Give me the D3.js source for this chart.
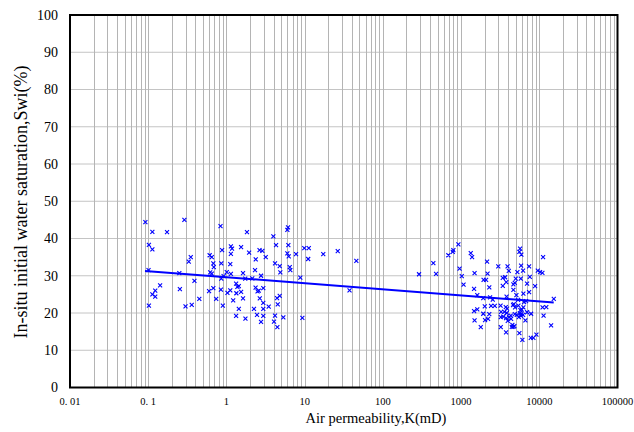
<!DOCTYPE html>
<html lang="en">
  <head>
    <meta charset="utf-8">
    <title>Swi vs air permeability</title>
    <script src="https://cdnjs.cloudflare.com/ajax/libs/d3/7.8.5/d3.min.js"></script>
    <style type="text/css">
      body { margin: 0; background: #fff; }
      svg { display: block; }
      .tick-y { font-family: 'Liberation Serif', 'Times New Roman', serif; font-size: 14px; }
      .tick-x { font-family: 'Liberation Serif', 'Times New Roman', serif; font-size: 10.5px; }
      .title { font-family: 'Liberation Serif', 'Times New Roman', serif; font-size: 14.5px; }
      .title-y { font-family: 'Liberation Serif', 'Times New Roman', serif; font-size: 18px; }
    </style>
  </head>
  <body>
    <svg id="chart"></svg>
    <script type="text/javascript">
// permeability K (mD) and water saturation Swi (%) of each sample
var permK = [
  0.092, 0.29, 0.113, 0.174, 0.102, 0.113, 0.33, 0.101, 0.25, 0.142,
  0.123, 0.113, 0.123, 0.254, 0.102, 0.30, 0.36, 0.35, 0.39, 0.45,
  0.84, 1.83, 1.14, 1.18, 1.54, 0.88, 1.95, 2.65, 1.14, 0.61,
  0.65, 0.68, 0.69, 0.86, 1.12, 2.37, 0.62, 0.65, 1.01, 1.14,
  1.63, 2.32, 0.92, 0.86, 1.74, 2.14, 1.33, 1.38, 1.44, 0.60,
  0.68, 0.85, 1.12, 1.03, 1.34, 1.54, 2.36, 2.5, 2.96, 2.59,
  0.74, 1.22, 1.63, 2.67, 4.8, 4.44, 2.96, 3.47, 4.53, 0.90,
  1.44, 2.25, 2.96, 1.33, 1.75, 2.46, 2.96, 4.18, 5.34, 9.35,
  2.77, 4.06, 4.48, 3.98, 6.13, 6.01, 2.88, 4.31, 6.19, 9.9,
  11.3, 26.5, 3.18, 6.01, 6.26, 7.76, 11.1, 17.3, 45.8, 4.18,
  4.8, 6.45, 4.89, 6.56, 2.77, 8.81, 37.5,
  290, 442, 479, 688, 783, 797, 924, 957, 1330, 1383,
  1021, 1076, 1488, 1466, 2150, 2182, 1940, 2088, 2294, 1611,
  1922, 2349, 2543, 1466, 1611, 1922, 2294, 2215, 2027, 1488,
  1786, 2418, 2698, 2010, 2990, 3930, 4074, 3415, 3652, 3785,
  3415, 4665, 3818, 3200, 3728, 3873, 3247, 3577, 3840, 3445,
  4110, 4360, 3955, 3219, 3762, 4450, 4805, 5248, 5682, 5566,
  5903, 5852, 6205, 5006, 4862, 5799, 5357, 6260, 7408, 7560,
  6982, 7408, 8838, 9568, 10240, 10960, 11190, 4624, 4904, 5404,
  5732, 6260, 6779, 6641, 7855, 5157, 5470, 5903, 4862, 4665,
  5566, 6079, 7786, 8404, 9184, 11020, 12290, 11350, 14160, 15330,
  3219, 3762, 4321, 4529, 5096, 5631, 6205, 4720, 4665, 6391,
  5972, 6982, 5852
];
var swi = [
  44.4, 45.0, 41.8, 41.7, 38.3, 37.1, 33.8, 31.5, 30.7, 27.4,
  26.0, 25.0, 24.4, 26.4, 22.0, 21.8, 22.2, 35.0, 28.6, 23.8,
  43.3, 41.7, 37.9, 37.3, 37.7, 36.9, 36.2, 36.9, 35.9, 35.5,
  35.0, 33.3, 32.3, 33.3, 33.1, 34.4, 30.9, 30.6, 31.0, 30.5,
  30.7, 31.5, 29.9, 29.2, 29.2, 29.3, 27.9, 27.0, 27.2, 25.9,
  26.7, 26.3, 26.1, 25.4, 25.3, 25.7, 26.8, 25.8, 26.7, 26.0,
  23.8, 23.4, 23.9, 23.9, 24.6, 24.0, 22.7, 21.7, 22.3, 22.0,
  21.1, 21.1, 21.1, 19.2, 18.5, 19.5, 19.2, 19.3, 18.8, 18.7,
  17.6, 17.7, 16.2, 40.6, 43.0, 42.3, 36.7, 38.2, 38.2, 37.4,
  37.4, 36.6, 35.0, 36.0, 35.2, 35.8, 34.5, 35.8, 34.0, 33.3,
  32.6, 32.3, 30.9, 31.5, 30.0, 29.5, 26.1,
  30.4, 33.4, 30.5, 35.5, 36.4, 36.9, 38.4, 31.9, 36.1, 35.0,
  29.9, 27.6, 30.7, 26.5, 33.8, 30.6, 28.9, 28.9, 26.9, 24.8,
  24.0, 24.2, 23.6, 20.5, 21.0, 19.8, 19.7, 18.4, 18.1, 18.0,
  16.2, 21.9, 21.9, 21.8, 32.5, 32.5, 31.3, 29.4, 29.6, 28.3,
  27.3, 26.2, 24.4, 22.0, 21.6, 21.2, 20.3, 20.3, 20.0, 19.0,
  18.9, 18.4, 17.9, 16.2, 14.8, 16.3, 16.5, 31.0, 37.3, 36.4,
  35.7, 32.7, 31.4, 29.2, 28.1, 29.2, 23.5, 25.2, 32.5, 29.7,
  27.9, 25.6, 27.2, 31.4, 31.0, 30.8, 35.0, 22.1, 21.5, 22.0,
  20.8, 21.5, 23.2, 18.0, 19.8, 19.5, 18.9, 19.7, 19.7, 16.3,
  14.6, 12.8, 13.3, 13.3, 14.2, 21.5, 21.6, 19.3, 16.7, 23.8,
  18.9, 18.6, 19.3, 16.8, 24.8, 19.9, 19.5, 22.4, 27.7, 22.9,
  20.9, 20.2, 19.2
];

// fitted trend line end points
var trendK = [0.091, 15300];
var trendSwi = [31.3, 22.8];

var xTicks = [0.01, 0.1, 1, 10, 100, 1000, 10000, 100000];
var xTickLabels = ["0. 01", "0. 1", "1", "10", "100", "1000", "10000", "100000"];
var yTicks = [0, 10, 20, 30, 40, 50, 60, 70, 80, 90, 100];

var w = 634;
var h = 432;
var plotLeft = 70, plotRight = 617.5, plotTop = 15, plotBottom = 387.5;

var svg = d3.select("#chart")
  .attr("width", w)
  .attr("height", h);

var xScale = d3.scaleLog().domain([0.01, 100000]).range([plotLeft, plotRight]);
var yScale = d3.scaleLinear().domain([0, 100]).range([plotBottom, plotTop]);

//grid lines
svg.append("g")
  .selectAll("line")
  .data(yTicks.slice(1, -1))
  .enter().append("line")
  .attr("x1", plotLeft).attr("x2", plotRight)
  .attr("y1", function(d) { return yScale(d); })
  .attr("y2", function(d) { return yScale(d); })
  .attr("stroke", "#c4c4c4")
  .attr("stroke-width", 1);

svg.append("g")
  .selectAll("line")
  .data(xScale.ticks().filter(function(d) { return d > 0.0100001 && d < 99999; }))
  .enter().append("line")
  .attr("x1", function(d) { return Math.round(xScale(d)) + 0.5; })
  .attr("x2", function(d) { return Math.round(xScale(d)) + 0.5; })
  .attr("y1", plotTop).attr("y2", plotBottom)
  .attr("stroke", "#b4b4b4")
  .attr("stroke-width", 1);

//frame
svg.append("rect")
  .attr("x", plotLeft).attr("y", plotTop)
  .attr("width", plotRight - plotLeft).attr("height", plotBottom - plotTop)
  .attr("fill", "none")
  .attr("stroke", "#000")
  .attr("stroke-width", 2);

//y tick labels
svg.append("g")
  .selectAll("text")
  .data(yTicks)
  .enter().append("text")
  .attr("class", "tick-y")
  .attr("x", 58)
  .attr("y", function(d) { return yScale(d); })
  .attr("dy", "0.35em")
  .attr("text-anchor", "end")
  .text(function(d) { return d; });

//x tick labels
svg.append("g")
  .selectAll("text")
  .data(xTicks)
  .enter().append("text")
  .attr("class", "tick-x")
  .attr("x", function(d) { return xScale(d); })
  .attr("y", 405)
  .attr("text-anchor", "middle")
  .text(function(d, i) { return xTickLabels[i]; });

//points
var pts = permK.map(function(k, i) { return [k, swi[i]]; });
var s = 2;
svg.append("g")
  .selectAll("path")
  .data(pts)
  .enter().append("path")
  .attr("d", function(d) {
    var x = xScale(d[0]), y = yScale(d[1]);
    return "M" + (x - s) + "," + (y - s) + "L" + (x + s) + "," + (y + s) +
      "M" + (x - s) + "," + (y + s) + "L" + (x + s) + "," + (y - s);
  })
  .attr("stroke", "#0000ff")
  .attr("stroke-width", 1.1)
  .attr("fill", "none");

//trend line
var line = d3.line()
  .x(function(d) { return xScale(d[0]); })
  .y(function(d) { return yScale(d[1]); });
svg.append("path")
  .datum(trendK.map(function(k, i) { return [k, trendSwi[i]]; }))
  .attr("d", line)
  .attr("stroke", "#0000ff")
  .attr("stroke-width", 2)
  .attr("fill", "none");

//axis titles
svg.append("text")
  .attr("class", "title")
  .attr("x", 376)
  .attr("y", 423)
  .attr("text-anchor", "middle")
  .text("Air permeability,K(mD)");

svg.append("text")
  .attr("class", "title-y")
  .attr("transform", "translate(27,202) rotate(-90)")
  .attr("text-anchor", "middle")
  .text("In-situ initial water saturation,Swi(%)");
    </script>
  </body>
</html>
